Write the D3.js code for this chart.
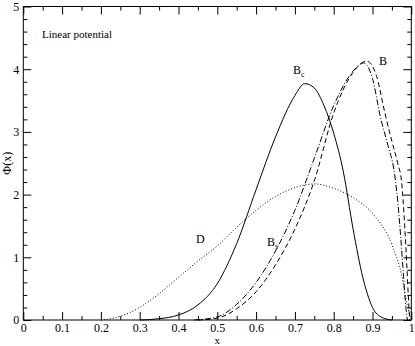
<!DOCTYPE html>
<html>
<head>
<meta charset="utf-8">
<script src="https://cdn.jsdelivr.net/npm/d3@7"></script>
<style>
  body { margin: 0; background: #fff; }
  text { font-family: 'Liberation Serif', 'Times New Roman', Times, serif; fill: #000; }
</style>
</head>
<body>
<div id="container"></div>
<script>
  // data
  const xTicks = [0, 0.1, 0.2, 0.3, 0.4, 0.5, 0.6, 0.7, 0.8, 0.9, 1]
  const yTicks = [0, 1, 2, 3, 4, 5]

  const bcX = [0.30, 0.35, 0.40, 0.45, 0.50, 0.55, 0.60, 0.65, 0.70, 0.725, 0.75, 0.775, 0.80, 0.825, 0.85, 0.875, 0.90, 0.925, 0.95]
  const bcY = [0, 0.02, 0.08, 0.24, 0.58, 1.22, 2.08, 2.92, 3.58, 3.77, 3.7, 3.42, 2.98, 2.36, 1.45, 0.68, 0.2, 0.04, 0]

  const dX = [0.20, 0.25, 0.30, 0.35, 0.40, 0.45, 0.50, 0.55, 0.60, 0.65, 0.70, 0.75, 0.80, 0.85, 0.90, 0.95, 0.975, 0.99, 1.0]
  const dY = [0, 0.06, 0.2, 0.42, 0.68, 0.94, 1.18, 1.48, 1.75, 1.97, 2.11, 2.17, 2.1, 1.95, 1.7, 1.2, 0.72, 0.22, 0]

  const bX = [0.45, 0.50, 0.55, 0.60, 0.65, 0.70, 0.75, 0.80, 0.85, 0.885, 0.91, 0.932, 0.95, 0.965, 0.975, 0.983, 0.989, 0.993, 0.996]
  const bY = [0, 0.03, 0.18, 0.45, 0.88, 1.45, 2.22, 3.3, 3.95, 4.13, 3.9, 3.3, 2.85, 2.5, 2.2, 1.5, 0.8, 0.3, 0]

  const bsX = [0.44, 0.50, 0.55, 0.60, 0.65, 0.70, 0.75, 0.80, 0.85, 0.877, 0.90, 0.92, 0.94, 0.955, 0.965, 0.973, 0.98, 0.986, 0.99]
  const bsY = [0, 0.05, 0.25, 0.6, 1.1, 1.75, 2.58, 3.42, 3.97, 4.1, 3.85, 3.25, 2.78, 2.4, 1.9, 1.3, 0.7, 0.2, 0]

  const width = 415
  const height = 346
  const margin = { left: 23.3, right: 3.7, top: 6.5, bottom: 26 }
  const chartWidth = width - margin.left - margin.right
  const chartHeight = height - margin.top - margin.bottom

  const svg = d3.select('#container')
    .append('svg')
    .attr('width', width)
    .attr('height', height)

  const chart = svg.append('g')
    .attr('transform', `translate(${margin.left}, ${margin.top})`)

  const xScale = d3.scaleLinear().domain([0, 1]).range([0, chartWidth])
  const yScale = d3.scaleLinear().domain([0, 5]).range([chartHeight, 0])

  const xMinor = d3.range(0.05, 1, 0.1)
  const yMinor = d3.range(0, 5.01, 0.2).filter((v) => Math.abs(v - Math.round(v)) > 0.01)

  const cleanAxis = (g) => {
    g.attr('font-family', null).attr('font-size', null)
    g.select('.domain').remove()
    g.selectAll('line').attr('stroke', '#000')
    g.selectAll('text').style('font-size', '12px')
  }

  // bottom
  chart.append('g')
    .attr('transform', `translate(0, ${chartHeight})`)
    .call(d3.axisBottom(xScale).tickValues(xTicks).tickSize(-8).tickPadding(3)
      .tickFormat((d) => d3.format('')(d)))
    .call(cleanAxis)
  chart.append('g')
    .attr('transform', `translate(0, ${chartHeight})`)
    .call(d3.axisBottom(xScale).tickValues(xMinor).tickSize(-4).tickFormat(''))
    .call(cleanAxis)
  // top
  chart.append('g')
    .call(d3.axisTop(xScale).tickValues(xTicks).tickSize(-8).tickFormat(''))
    .call(cleanAxis)
  chart.append('g')
    .call(d3.axisTop(xScale).tickValues(xMinor).tickSize(-4).tickFormat(''))
    .call(cleanAxis)
  // left
  chart.append('g')
    .call(d3.axisLeft(yScale).tickValues(yTicks).tickSize(-8).tickPadding(4).tickFormat(d3.format('d')))
    .call(cleanAxis)
  chart.append('g')
    .call(d3.axisLeft(yScale).tickValues(yMinor).tickSize(-4).tickFormat(''))
    .call(cleanAxis)
  // right
  chart.append('g')
    .attr('transform', `translate(${chartWidth}, 0)`)
    .call(d3.axisRight(yScale).tickValues(yTicks).tickSize(-8).tickFormat(''))
    .call(cleanAxis)
  chart.append('g')
    .attr('transform', `translate(${chartWidth}, 0)`)
    .call(d3.axisRight(yScale).tickValues(yMinor).tickSize(-4).tickFormat(''))
    .call(cleanAxis)

  chart.append('rect')
    .attr('width', chartWidth)
    .attr('height', chartHeight)
    .attr('fill', 'none')
    .attr('stroke', '#000')
    .attr('stroke-width', 1)

  const line = d3.line()
    .x((d) => xScale(d[0]))
    .y((d) => yScale(d[1]))
    .curve(d3.curveMonotoneX)

  const series = [
    { xs: bcX, ys: bcY, dash: null },
    { xs: dX, ys: dY, dash: '1,2' },
    { xs: bX, ys: bY, dash: '5,3' },
    { xs: bsX, ys: bsY, dash: '6,2,1,2' }
  ]

  chart.selectAll('.curve')
    .data(series)
    .enter()
    .append('path')
    .attr('class', 'curve')
    .attr('fill', 'none')
    .attr('stroke', '#000')
    .attr('stroke-width', 1)
    .attr('stroke-dasharray', (s) => s.dash)
    .attr('d', (s) => line(s.xs.map((x, i) => [x, s.ys[i]])))

  // labels
  svg.append('text')
    .attr('x', 42)
    .attr('y', 38)
    .style('font-size', '11px')
    .text('Linear potential')

  const curveLabel = (x, y, main, sub) => {
    const t = svg.append('text')
      .attr('x', x)
      .attr('y', y)
      .style('font-size', '12px')
    t.append('tspan').text(main)
    if (sub) {
      t.append('tspan').attr('dy', 3).style('font-size', '8px').text(sub)
    }
  }
  curveLabel(293, 74, 'B', 'c')
  curveLabel(379, 65, 'B')
  curveLabel(196, 243, 'D')
  curveLabel(267, 246, 'B', 's')

  svg.append('text')
    .attr('x', margin.left + chartWidth / 2)
    .attr('y', 344)
    .attr('text-anchor', 'middle')
    .style('font-size', '11px')
    .text('x')

  svg.append('text')
    .attr('transform', `translate(11, ${margin.top + chartHeight / 2}) rotate(-90)`)
    .attr('text-anchor', 'middle')
    .style('font-size', '12px')
    .text('Φ(x)')
</script>
</body>
</html>
